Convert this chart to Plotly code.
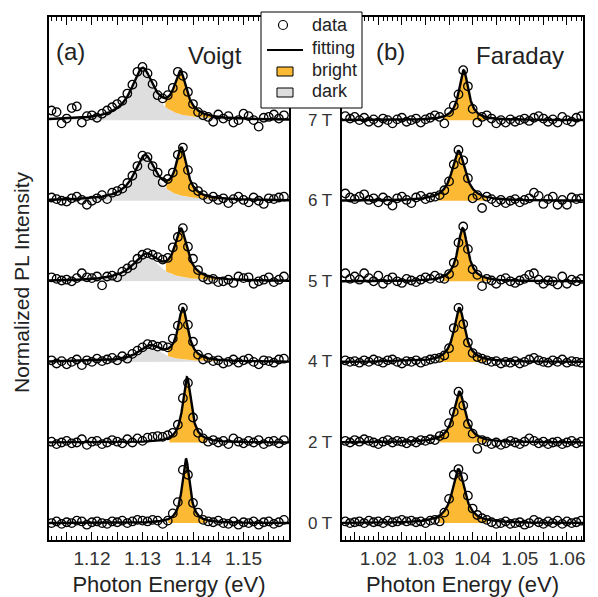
import numpy as np
import plotly.graph_objects as go

# magnetic fields, bottom to top
fields = ["0 T", "2 T", "4 T", "5 T", "6 T", "7 T"]

# ---- (a) Voigt geometry: measured spectra (normalized, 1 meV steps) ----
voigt_energy = np.round(np.arange(1.112, 1.1585, 0.001), 4)
voigt_0T = [0.00, 0.02, -0.01, 0.01, 0.00, 0.03, 0.02, -0.02, 0.01, 0.02, 0.00, -0.01, 0.02, 0.01, 0.03, 0.00,
            0.02, 0.04, 0.03, 0.02, 0.04, 0.03, -0.01, 0.03, 0.12, 0.26, 0.66, 0.60, 0.25, 0.13, 0.04, 0.02,
            0.01, 0.03, 0.00, -0.01, 0.02, -0.02, 0.01, 0.00, 0.02, -0.02, 0.01, 0.02, -0.01, 0.01, 0.04]
voigt_2T = [0.01, -0.02, 0.00, 0.02, -0.01, 0.00, 0.04, -0.03, 0.01, 0.02, -0.02, 0.00, 0.03, 0.01, -0.01, 0.04,
            0.00, 0.05, 0.02, 0.06, 0.07, 0.08, 0.07, 0.09, 0.12, 0.22, 0.55, 0.74, 0.31, 0.12, 0.05, 0.01,
            0.03, 0.00, 0.02, -0.02, 0.05, 0.01, -0.01, 0.02, 0.00, 0.03, -0.02, 0.01, 0.02, -0.01, 0.03]
voigt_4T = [0.02, -0.02, 0.01, -0.03, 0.00, 0.03, -0.04, 0.02, 0.00, 0.04, 0.01, 0.03, 0.05, 0.02, 0.07, 0.04,
            0.10, 0.14, 0.18, 0.22, 0.21, 0.19, 0.20, 0.18, 0.29, 0.45, 0.67, 0.46, 0.25, 0.09, 0.03, 0.05,
            0.01, 0.02, -0.02, 0.00, 0.03, -0.01, 0.02, 0.04, 0.00, -0.03, 0.02, 0.01, -0.01, 0.03, 0.04]
voigt_5T = [0.05, 0.03, 0.01, 0.02, 0.00, 0.04, 0.10, 0.05, 0.04, 0.06, -0.05, 0.06, 0.07, 0.05, 0.12, 0.16,
            0.20, 0.28, 0.33, 0.35, 0.33, 0.30, 0.27, 0.29, 0.42, 0.55, 0.66, 0.43, 0.28, 0.14, 0.05, 0.02,
            0.03, -0.01, 0.00, 0.02, -0.02, 0.06, 0.04, 0.05, -0.03, 0.00, 0.02, 0.05, -0.01, 0.02, 0.06]
voigt_6T = [0.04, 0.02, 0.00, -0.01, 0.03, 0.05, 0.01, -0.05, 0.00, 0.03, 0.07, 0.02, 0.10, 0.12, 0.15, 0.22,
            0.31, 0.43, 0.56, 0.54, 0.43, 0.35, 0.23, 0.27, 0.35, 0.57, 0.66, 0.38, 0.17, 0.12, 0.07, 0.02,
            0.05, 0.01, 0.03, -0.03, 0.02, 0.05, 0.01, -0.02, 0.04, 0.00, -0.04, 0.03, 0.02, 0.04, 0.05]
voigt_7T = [0.12, 0.10, -0.04, 0.02, 0.15, 0.17, -0.03, 0.05, 0.06, 0.03, 0.08, 0.12, 0.16, 0.20, 0.24, 0.33,
            0.44, 0.60, 0.66, 0.58, 0.45, 0.31, 0.27, 0.31, 0.40, 0.60, 0.55, 0.35, 0.20, 0.10, 0.06, 0.04,
            -0.02, 0.07, 0.02, 0.05, -0.03, 0.00, 0.08, 0.05, 0.00, -0.08, 0.03, 0.04, 0.07, 0.02, 0.06]
voigt_data = [voigt_0T, voigt_2T, voigt_4T, voigt_5T, voigt_6T, voigt_7T]

# Lorentzian fit parameters (center eV, amplitude, HWHM eV)
voigt_bright_x0 = [1.1386, 1.1388, 1.1380, 1.1376, 1.1377, 1.1375]
voigt_bright_amp = [0.80, 0.81, 0.64, 0.60, 0.60, 0.54]
voigt_bright_w = [0.0009, 0.0010, 0.0012, 0.0015, 0.0013, 0.0015]
voigt_dark_x0 = [1.1330, 1.1330, 1.1315, 1.1307, 1.1305, 1.1300]
voigt_dark_amp = [0.0, 0.0, 0.19, 0.32, 0.55, 0.63]
voigt_dark_w = [0.0030, 0.0030, 0.0028, 0.0032, 0.0026, 0.0027]
voigt_fill_lo = [1.1351, 1.1353, 1.1350, 1.1346, 1.1347, 1.1345]
voigt_fill_hi = [1.1426, 1.1428, 1.1455, 1.1451, 1.1452, 1.1450]

# ---- (b) Faraday geometry: measured spectra (normalized, 1 meV steps) ----
faraday_energy = np.round(np.arange(1.013, 1.0635, 0.001), 4)
faraday_0T = [0.02, 0.00, 0.01, 0.02, 0.00, 0.03, 0.01, 0.02, 0.00, 0.03, 0.01, 0.02, 0.04, 0.02, 0.03, 0.01,
              0.02, 0.00, 0.03, 0.04, 0.02, 0.13, 0.30, 0.60, 0.67, 0.57, 0.34, 0.18, 0.10, 0.06, 0.04, 0.01,
              -0.01, 0.00, 0.02, -0.01, 0.00, 0.01, -0.02, 0.00, 0.04, 0.01, -0.01, 0.02, 0.00, 0.03, -0.01,
              0.02, 0.00, 0.01, 0.03]
faraday_2T = [0.02, 0.00, 0.03, 0.01, 0.04, 0.02, 0.00, -0.02, 0.01, 0.03, 0.00, 0.02, 0.01, -0.01, 0.02, 0.00,
              0.03, 0.02, 0.04, 0.03, 0.08, 0.10, 0.24, 0.38, 0.63, 0.46, 0.23, 0.11, -0.08, 0.03, 0.01, -0.02,
              0.00, -0.03, -0.01, 0.02, 0.00, -0.02, 0.01, 0.05, 0.02, -0.01, 0.01, -0.02, 0.00, 0.01, -0.02,
              0.00, 0.02, -0.01, 0.01]
faraday_4T = [0.02, 0.00, 0.01, -0.01, 0.02, 0.00, 0.03, 0.01, -0.01, 0.02, 0.03, 0.00, -0.02, 0.01, 0.00, 0.02,
              -0.01, 0.01, 0.03, 0.04, 0.05, 0.08, 0.17, 0.42, 0.67, 0.47, 0.24, 0.11, 0.06, 0.04, 0.02, 0.00,
              0.01, -0.02, 0.00, -0.01, 0.01, -0.02, 0.00, 0.03, 0.05, 0.02, 0.00, -0.01, 0.02, 0.00, 0.03,
              -0.01, 0.01, 0.00, -0.01]
faraday_5T = [0.10, 0.03, 0.06, 0.02, 0.10, 0.04, 0.00, 0.07, -0.03, 0.02, 0.05, 0.00, -0.02, 0.03, 0.01, -0.01,
              0.02, 0.05, 0.03, 0.07, 0.04, 0.03, 0.09, 0.23, 0.48, 0.68, 0.40, 0.15, 0.08, -0.06, 0.03, 0.01,
              -0.03, 0.02, 0.04, 0.00, -0.02, 0.01, 0.03, 0.08, 0.10, 0.02, -0.03, 0.01, 0.00, -0.04, 0.06,
              -0.03, 0.02, 0.00, 0.03]
faraday_6T = [0.09, 0.04, 0.02, 0.05, 0.08, 0.01, 0.03, -0.02, 0.04, 0.00, -0.06, 0.03, 0.05, 0.01, -0.03, 0.04,
              0.06, 0.02, 0.04, 0.05, 0.07, 0.13, 0.24, 0.45, 0.63, 0.50, 0.28, 0.03, 0.07, -0.09, 0.05, 0.02,
              -0.02, 0.01, -0.03, 0.00, 0.02, -0.02, 0.01, 0.03, 0.10, 0.06, -0.04, 0.02, 0.05, -0.05, 0.01,
              -0.05, 0.04, 0.02, 0.03]
faraday_7T = [0.05, 0.02, 0.04, 0.00, 0.03, -0.02, 0.01, -0.03, 0.02, 0.00, -0.04, 0.01, 0.03, -0.02, 0.00, 0.02,
              -0.03, 0.01, 0.03, 0.06, 0.04, -0.04, 0.10, 0.18, 0.32, 0.62, 0.42, 0.14, -0.03, 0.04, 0.06, 0.02,
              -0.04, 0.00, -0.03, 0.01, -0.02, 0.00, 0.02, -0.01, 0.03, 0.05, 0.02, -0.02, 0.01, -0.03, 0.04,
              0.00, -0.02, 0.03, 0.05]
faraday_data = [faraday_0T, faraday_2T, faraday_4T, faraday_5T, faraday_6T, faraday_7T]

faraday_x0 = [1.0370, 1.0372, 1.0372, 1.0379, 1.0370, 1.0381]
faraday_amp = [0.67, 0.63, 0.67, 0.66, 0.62, 0.62]
faraday_w = [0.0016, 0.0015, 0.0014, 0.0013, 0.0017, 0.0012]
faraday_fill_lo = [1.0327, 1.0329, 1.0329, 1.0336, 1.0327, 1.0340]
faraday_fill_hi = [1.0430, 1.0432, 1.0432, 1.0439, 1.0430, 1.0425]

# axis ranges and ticks
voigt_range = [1.1115, 1.159]
faraday_range = [1.0123, 1.0634]
y_range = [-0.21, 6.28]
voigt_tickvals = [1.115, 1.12, 1.125, 1.13, 1.135, 1.14, 1.145, 1.15, 1.155]
voigt_ticktext = ["", "1.12", "", "1.13", "", "1.14", "", "1.15", ""]
faraday_tickvals = [1.015, 1.02, 1.025, 1.03, 1.035, 1.04, 1.045, 1.05, 1.055, 1.06]
faraday_ticktext = ["", "1.02", "", "1.03", "", "1.04", "", "1.05", "", "1.06"]

ORANGE = "#FBB934"
GRAY = "#DEDEDE"
FONT = "Liberation Sans, Arial, sans-serif"


def lor(x, x0, a, w):
    return a / (1 + ((x - x0) / w) ** 2)


fig = go.Figure()


def add_panel(energy, data, x0s, amps, ws, dx0s, damps, dws, lo, hi, rng, xa, ya):
    xf = np.linspace(rng[0], rng[1], 800)
    for k, y in enumerate(data):
        off = k
        dark = lor(xf, dx0s[k], damps[k], dws[k]) if damps is not None else np.zeros_like(xf)
        bright = lor(xf, x0s[k], amps[k], ws[k])
        if damps is not None and damps[k] > 0:
            fig.add_trace(go.Scatter(
                x=np.concatenate([xf, xf[::-1]]),
                y=np.concatenate([off + dark, np.full_like(xf, off)]),
                fill="toself", fillcolor=GRAY, line=dict(width=0), mode="lines",
                hoverinfo="skip", showlegend=False, xaxis=xa, yaxis=ya))
        m = (xf >= lo[k]) & (xf <= hi[k])
        xs = xf[m]
        fig.add_trace(go.Scatter(
            x=np.concatenate([xs, xs[::-1]]),
            y=np.concatenate([off + dark[m] + bright[m], (off + dark[m])[::-1]]),
            fill="toself", fillcolor=ORANGE, line=dict(width=0), mode="lines",
            hoverinfo="skip", showlegend=False, xaxis=xa, yaxis=ya))
        fig.add_trace(go.Scatter(
            x=energy, y=np.array(y) + off, mode="markers",
            marker=dict(symbol="circle-open", size=8.5, color="black", line=dict(width=1.3)),
            showlegend=False, xaxis=xa, yaxis=ya))
        fig.add_trace(go.Scatter(
            x=xf, y=off + dark + bright, mode="lines",
            line=dict(color="black", width=2.4), showlegend=False, xaxis=xa, yaxis=ya))


add_panel(voigt_energy, voigt_data, voigt_bright_x0, voigt_bright_amp, voigt_bright_w,
          voigt_dark_x0, voigt_dark_amp, voigt_dark_w, voigt_fill_lo, voigt_fill_hi,
          voigt_range, "x", "y")
add_panel(faraday_energy, faraday_data, faraday_x0, faraday_amp, faraday_w,
          None, None, None, faraday_fill_lo, faraday_fill_hi,
          faraday_range, "x2", "y2")

# page has an 8px body margin, so the figure is drawn 8px smaller and shifted
OFF = 8
W, H = 598 - OFF, 597 - OFF
# plot area on screen: x 49..583, y 17..540
L, R, T, B = 49 - OFF, W - (583 - OFF), 17 - OFF, H - (540 - OFF)


def px(x):
    return (x - OFF - L) / (W - L - R)


def py(y):
    return (H - B - (y - OFF)) / (H - T - B)


xcommon = dict(showline=True, linecolor="black", linewidth=1.5, mirror="ticks",
               ticks="inside", ticklen=8, tickwidth=1, tickcolor="black",
               minor=dict(ticks="inside", ticklen=4, dtick=0.001, tickcolor="black", tickwidth=1),
               showgrid=False, zeroline=False, automargin=False,
               tickfont=dict(size=19, color="#333", family=FONT),
               title=dict(text="Photon Energy (eV)", font=dict(size=22, color="#222", family=FONT), standoff=9))
ycommon = dict(showline=True, linecolor="black", linewidth=1.5, mirror=True, ticks="",
               showticklabels=False, showgrid=False, zeroline=False, automargin=False, range=y_range)

fig.update_layout(
    width=W, height=H, margin=dict(l=L, r=R, t=T, b=B, autoexpand=False),
    plot_bgcolor="white", paper_bgcolor="white",
    font=dict(family=FONT, color="#222"),
    xaxis=dict(domain=[0, px(289)], range=voigt_range, tickvals=voigt_tickvals,
               ticktext=voigt_ticktext, anchor="y", **xcommon),
    xaxis2=dict(domain=[px(342), 1], range=faraday_range, tickvals=faraday_tickvals,
                ticktext=faraday_ticktext, anchor="y2", **xcommon),
    yaxis=dict(domain=[0, 1], anchor="x", **ycommon),
    yaxis2=dict(domain=[0, 1], anchor="x2", **ycommon),
)


def label(text, x, y, size, xanchor="center", yref="paper", angle=0, color="#222"):
    return dict(text=text, x=x, y=y, xref="paper", yref=yref, xanchor=xanchor, yanchor="middle",
                textangle=angle, showarrow=False, font=dict(size=size, color=color, family=FONT))


ann = [label("Normalized PL Intensity", px(22), py(283), 21, angle=-90),
       label("(a)", px(70), py(52), 24),
       label("Voigt", px(215), py(55), 24),
       label("(b)", px(390), py(52), 24),
       label("Faraday", px(520), py(55), 24)]
for k, f in enumerate(fields):
    ann.append(label(f, px(334), k, 17, xanchor="right", yref="y2", color="#333"))

# legend box
shapes = [dict(type="rect", xref="paper", yref="paper", x0=px(261), x1=px(362), y0=py(108), y1=py(12),
               fillcolor="white", line=dict(color="black", width=1), layer="above"),
          dict(type="circle", xref="paper", yref="paper", x0=px(278.5), x1=px(287.5), y0=py(29.5), y1=py(20.5),
               line=dict(color="black", width=1.2), layer="above"),
          dict(type="line", xref="paper", yref="paper", x0=px(267), x1=px(303), y0=py(50), y1=py(50),
               line=dict(color="black", width=2.2), layer="above"),
          dict(type="rect", xref="paper", yref="paper", x0=px(277), x1=px(293), y0=py(76), y1=py(67),
               fillcolor=ORANGE, line=dict(color="black", width=1), layer="above"),
          dict(type="rect", xref="paper", yref="paper", x0=px(277), x1=px(293), y0=py(97), y1=py(88),
               fillcolor=GRAY, line=dict(color="black", width=1), layer="above")]
for text, yy in zip(["data", "fitting", "bright", "dark"], [25, 48, 70, 91]):
    ann.append(label(text, px(310), py(yy), 18, xanchor="left"))

fig.update_layout(annotations=ann, shapes=shapes)
fig.write_html("out.html")
